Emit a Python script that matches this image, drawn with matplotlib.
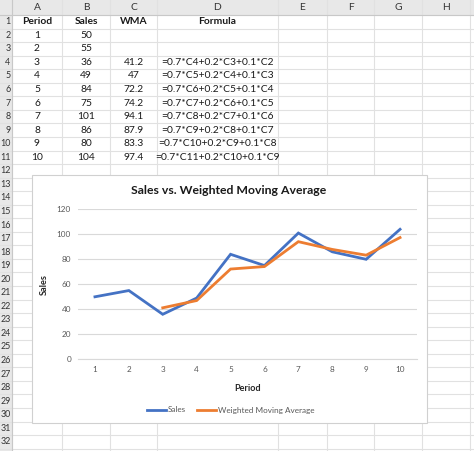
import matplotlib
matplotlib.use("Agg")
import matplotlib.pyplot as plt
from matplotlib.patches import Rectangle
import numpy as np

# ---- data ----
periods = [1, 2, 3, 4, 5, 6, 7, 8, 9, 10]
sales = [50, 55, 36, 49, 84, 75, 101, 86, 80, 104]
wma = [None, None, 41.2, 47, 72.2, 74.2, 94.1, 87.9, 83.3, 97.4]
wma_text = ["", "", "41.2", "47", "72.2", "74.2", "94.1", "87.9", "83.3", "97.4"]
formulas = ["", "",
            "=0.7*C4+0.2*C3+0.1*C2", "=0.7*C5+0.2*C4+0.1*C3",
            "=0.7*C6+0.2*C5+0.1*C4", "=0.7*C7+0.2*C6+0.1*C5",
            "=0.7*C8+0.2*C7+0.1*C6", "=0.7*C9+0.2*C8+0.1*C7",
            "=0.7*C10+0.2*C9+0.1*C8", "=0.7*C11+0.2*C10+0.1*C9"]
headers = ["Period", "Sales", "WMA", "Formula"]
col_letters = ["A", "B", "C", "D", "E", "F", "G", "H"]
yticks = [0, 20, 40, 60, 80, 100, 120]

plt.rcParams['font.family'] = ['Lato', 'DejaVu Sans']

W, H = 474, 451
fig = plt.figure(figsize=(W / 100, H / 100), dpi=100)
sheet = fig.add_axes([0, 0, 1, 1])
sheet.set_xlim(0, W)
sheet.set_ylim(H, 0)
sheet.axis('off')

col_edges = [12, 62, 110, 157, 278, 327, 374, 422, 470]
row0 = 15.0
rh = 13.55
nrows = 32
grid_c = '#E1E1E1'
hdr_bg = '#E8E8E8'

# header backgrounds
sheet.add_patch(Rectangle((0, 0), W, row0, facecolor=hdr_bg, edgecolor='none', zorder=0))
sheet.add_patch(Rectangle((0, 0), col_edges[0], H, facecolor=hdr_bg, edgecolor='none', zorder=0))

# grid lines
for x in col_edges:
    sheet.plot([x, x], [0, H], color=grid_c, lw=0.8, zorder=0.5)
for k in range(nrows + 1):
    y = row0 + k * rh
    sheet.plot([0, W], [y, y], color=grid_c, lw=0.8, zorder=0.5)
sheet.plot([col_edges[0], col_edges[0]], [0, H], color='#C8C8C8', lw=0.8, zorder=0.6)
sheet.plot([0, W], [row0, row0], color='#C8C8C8', lw=0.8, zorder=0.6)

fs = 7.4
txtc = '#1a1a1a'
for i, L in enumerate(col_letters):
    cx = (col_edges[i] + col_edges[i + 1]) / 2
    sheet.text(cx, 8, L, ha='center', va='center', fontsize=fs, color='#333333')
for r in range(1, nrows + 1):
    cy = row0 + (r - 0.5) * rh
    sheet.text(10.5, cy, str(r), ha='right', va='center', fontsize=6.4, color='#333333')

def cell(col, row, s, bold=False):
    cx = (col_edges[col] + col_edges[col + 1]) / 2
    cy = row0 + (row - 0.5) * rh
    sheet.text(cx, cy, s, ha='center', va='center', fontsize=fs, color=txtc,
               fontweight='bold' if bold else 'normal')

for j, hname in enumerate(headers):
    cell(j, 1, hname, bold=True)
for i in range(len(periods)):
    cell(0, i + 2, str(periods[i]))
    cell(1, i + 2, str(sales[i]))
    if wma_text[i]:
        cell(2, i + 2, wma_text[i])
    if formulas[i]:
        cell(3, i + 2, formulas[i])

# chart box
sheet.add_patch(Rectangle((32, 175), 427 - 32, 423 - 175, facecolor='white',
                          edgecolor='#D0D0D0', lw=0.8, zorder=2))
sheet.text(229, 191, "Sales vs. Weighted Moving Average", ha='center', va='center',
           fontsize=8.8, fontweight='bold', color='#1a1a1a', zorder=3)

# chart axes
x0, x1 = 78, 417
y0, y1 = 359.3, 209.3
ax = fig.add_axes([x0 / W, 1 - y0 / H, (x1 - x0) / W, (y0 - y1) / H], zorder=5)
ax.patch.set_alpha(0)
ax.set_xlim(0.5, 10.5)
ax.set_ylim(0, 120)
ax.set_yticks(yticks)
ax.set_xticks(periods)
for s in ['top', 'right', 'left']:
    ax.spines[s].set_visible(False)
ax.spines['bottom'].set_color('#D9D9D9')
ax.spines['bottom'].set_linewidth(0.8)
ax.grid(axis='y', color='#D9D9D9', lw=0.8)
ax.set_axisbelow(True)
ax.tick_params(length=0, labelsize=5.9, colors='#595959', pad=5)

wx = [p for p, v in zip(periods, wma) if v is not None]
wy = [v for v in wma if v is not None]
ax.plot(periods, sales, color='#4472C4', lw=2.0, label='Sales', solid_joinstyle='miter')
ax.plot(wx, wy, color='#ED7D31', lw=2.0, label='Weighted Moving Average', solid_joinstyle='miter')

ax.set_xlabel('Period', fontsize=6.6, fontweight='bold', color='#262626')
ax.xaxis.set_label_coords(0.5, (y0 - 384) / (y0 - y1))
ax.set_ylabel('Sales', fontsize=6.6, fontweight='bold', color='#262626')
ax.yaxis.set_label_coords((49 - x0) / (x1 - x0), (y0 - 285) / (y0 - y1))

fig.legend(handles=ax.get_lines(), loc='center', bbox_to_anchor=(230.5 / W, 1 - 410 / H),
           ncol=2, frameon=False, fontsize=5.9, handlelength=2.3, handletextpad=0.2,
           columnspacing=1.4, labelcolor='#595959')

fig.savefig('out.png', dpi=100)
